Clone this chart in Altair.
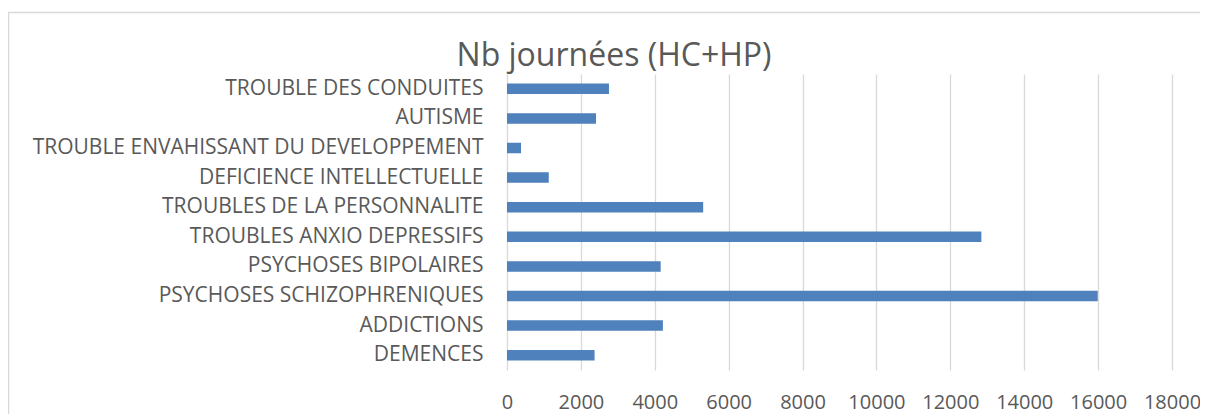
import altair as alt
import pandas as pd

title_text = "Nb journées (HC+HP)"
categories = [
    "TROUBLE DES CONDUITES",
    "AUTISME",
    "TROUBLE ENVAHISSANT DU DEVELOPPEMENT",
    "DEFICIENCE INTELLECTUELLE",
    "TROUBLES DE LA PERSONNALITE",
    "TROUBLES ANXIO DEPRESSIFS",
    "PSYCHOSES BIPOLAIRES\u00a0",
    "PSYCHOSES SCHIZOPHRENIQUES",
    "ADDICTIONS",
    "DEMENCES",
]
values = [2760, 2410, 380, 1130, 5310, 12840, 4160, 15990, 4220, 2370]
x_ticks = list(range(0, 18001, 2000))

df = pd.DataFrame({"cat": categories, "val": values})
one = pd.DataFrame({"t": [title_text]})

FONT = "Open Sans"
GREY = "#595959"
GRID = "#D9D9D9"

bars = alt.Chart(df).mark_bar(color="#4F81BD").encode(
    x=alt.X(
        "val:Q",
        scale=alt.Scale(domain=[0, 18000], nice=False),
        axis=alt.Axis(
            values=x_ticks,
            format="d",
            title=None,
            grid=True,
            gridColor=GRID,
            gridWidth=1.3,
            domain=False,
            ticks=False,
            tickSize=0,
            labelPadding=22,
            labelFont=FONT,
            labelFontSize=20,
            labelColor=GREY,
            labelFlush=False,
        ),
    ),
    y=alt.Y(
        "cat:N",
        sort=categories,
        scale=alt.Scale(paddingInner=0.645, paddingOuter=0.3225),
        axis=alt.Axis(
            title=None,
            domain=False,
            ticks=False,
            tickSize=0,
            labelPadding=24,
            labelFont=FONT,
            labelFontSize=21,
            labelColor=GREY,
            labelLimit=0,
        ),
    ),
)

border = alt.Chart(one).mark_rect(
    fill=None, stroke=GRID, strokeWidth=1.5
).encode(
    x=alt.value(-498.5),
    x2=alt.value(720),
    y=alt.value(-61.5),
    y2=alt.value(360),
)

title = alt.Chart(one).mark_text(
    font=FONT,
    fontSize=32,
    color=GREY,
    align="center",
    baseline="alphabetic",
).encode(
    text="t:N",
    x=alt.value(107),
    y=alt.value(-8),
)

chart = alt.layer(border, bars, title).properties(
    width=665,
    height=296,
    autosize=alt.AutoSizeParams(type="none"),
    padding={"left": 499, "top": 66, "right": 28, "bottom": 44},
).configure_view(stroke=None)

chart.save("out.html", embed_options={"renderer": "svg", "actions": False})
